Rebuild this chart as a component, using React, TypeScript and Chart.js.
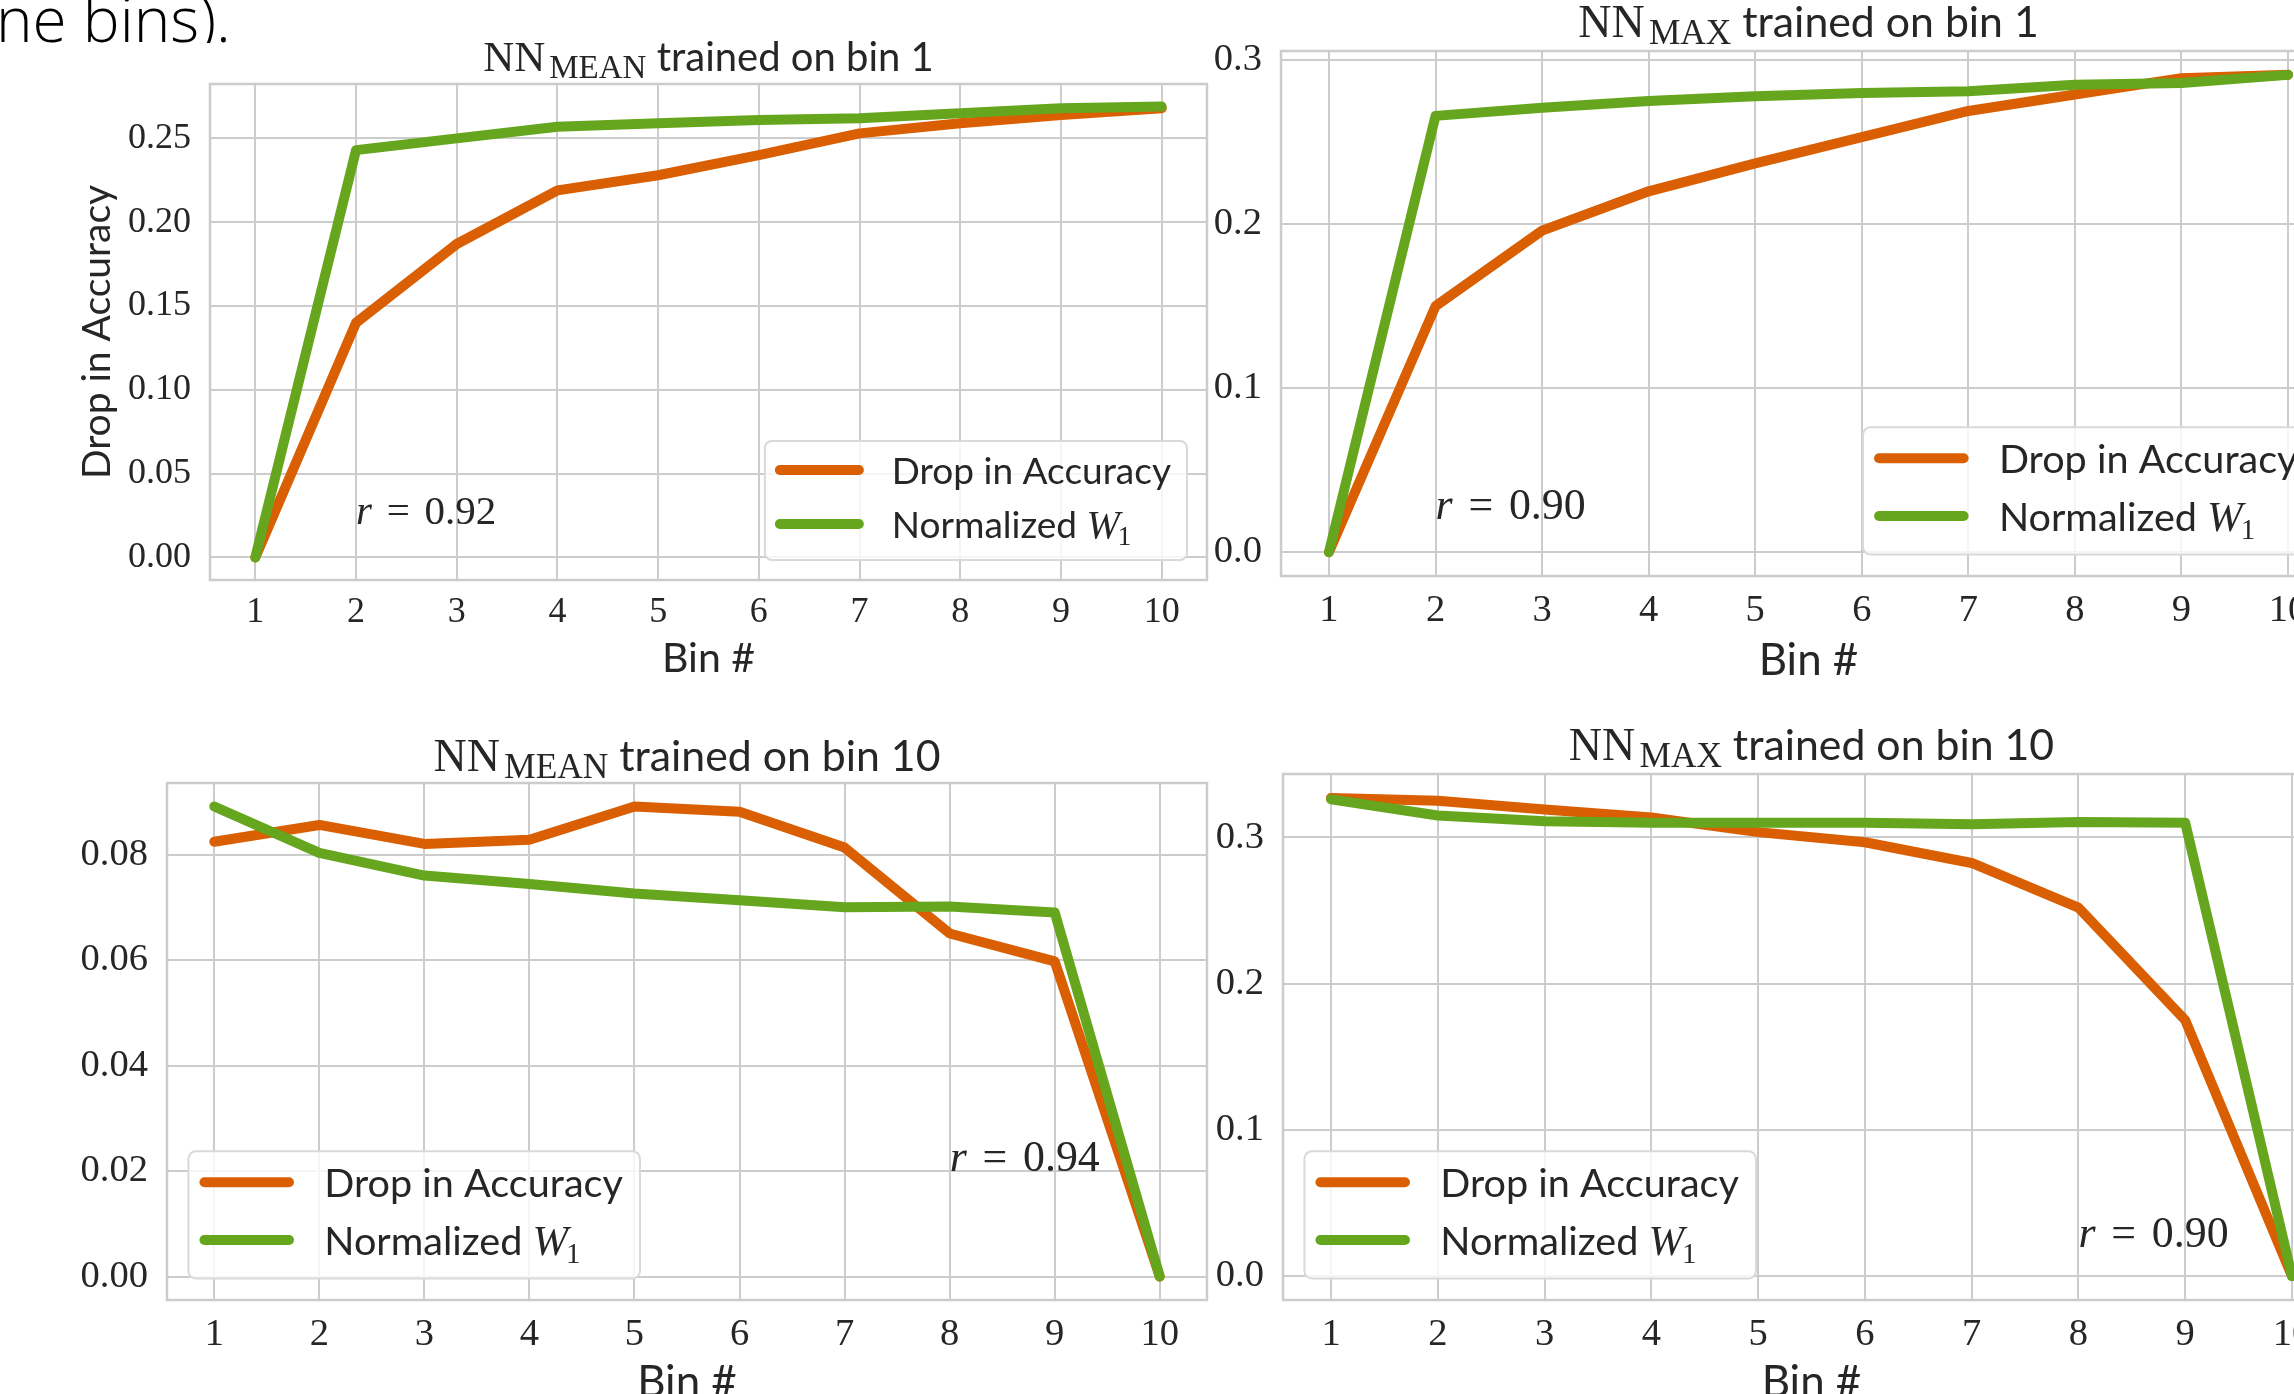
import React, { useEffect, useRef } from "react";
import { Chart, registerables } from "chart.js";
Chart.register(...registerables);

// ---------------- data ----------------
const BINS = [1, 2, 3, 4, 5, 6, 7, 8, 9, 10];
const SERIES_NAMES = ["Drop in Accuracy", "Normalized W₁"];
const COLOR_DROP = "#d95f02";
const COLOR_W1 = "#66a61e";

// NN_MEAN trained on bin 1
const MEAN_BIN1_DROP = [0, 0.14, 0.187, 0.219, 0.228, 0.24, 0.253, 0.259, 0.264, 0.268];
const MEAN_BIN1_W1 = [0, 0.243, 0.25, 0.257, 0.259, 0.261, 0.262, 0.265, 0.268, 0.269];
// NN_MAX trained on bin 1
const MAX_BIN1_DROP = [0, 0.15, 0.196, 0.22, 0.237, 0.253, 0.269, 0.279, 0.289, 0.291];
const MAX_BIN1_W1 = [0, 0.266, 0.271, 0.275, 0.278, 0.28, 0.281, 0.285, 0.286, 0.291];
// NN_MEAN trained on bin 10
const MEAN_BIN10_DROP = [0.0825, 0.0857, 0.0821, 0.0829, 0.0892, 0.0882, 0.0814, 0.0651, 0.0598, 0];
const MEAN_BIN10_W1 = [0.0892, 0.0804, 0.0761, 0.0745, 0.0727, 0.0714, 0.0701, 0.0702, 0.0691, 0];
// NN_MAX trained on bin 10
const MAX_BIN10_DROP = [0.327, 0.325, 0.319, 0.3136, 0.3036, 0.2967, 0.2825, 0.252, 0.175, 0];
const MAX_BIN10_W1 = [0.326, 0.315, 0.311, 0.31, 0.31, 0.31, 0.309, 0.3106, 0.31, 0];

const Y_TICKS_1 = [0, 0.05, 0.1, 0.15, 0.2, 0.25];
const Y_LABELS_1 = ["0.00", "0.05", "0.10", "0.15", "0.20", "0.25"];
const Y_TICKS_2 = [0, 0.1, 0.2, 0.3];
const Y_LABELS_2 = ["0.0", "0.1", "0.2", "0.3"];
const Y_TICKS_3 = [0, 0.02, 0.04, 0.06, 0.08];
const Y_LABELS_3 = ["0.00", "0.02", "0.04", "0.06", "0.08"];
const Y_TICKS_4 = [0, 0.1, 0.2, 0.3];
const Y_LABELS_4 = ["0.0", "0.1", "0.2", "0.3"];

const TITLE_SUBS = ["MEAN", "MAX", "MEAN", "MAX"];
const TITLE_RESTS = ["trained on bin 1", "trained on bin 1", "trained on bin 10", "trained on bin 10"];
const R_VALUES = ["0.92", "0.90", "0.94", "0.90"];
const R_X = [2, 2, 8, 8];
const R_Y = [0.02, 0.02, 0.02, 0.02];

// ---------------- layout ----------------
const TEXT = "#262626";
const GRID = "#cccccc";

type PanelCfg = {
  drop: number[]; w1: number[]; yTicks: number[]; yLabels: string[];
  idx: number; s: number; L: number; T: number; R: number; B: number;
  yW: number; topPad: number; rightPad: number; xH: number;
  yTitle: boolean; corner: "lr" | "ll"; titleGap: number;
  tickCenter: number; xTitleCenter: number;
};

const PANELS: PanelCfg[] = [
  { drop: MEAN_BIN1_DROP, w1: MEAN_BIN1_W1, yTicks: Y_TICKS_1, yLabels: Y_LABELS_1, idx: 0, s: 1,
    L: 210, T: 84, R: 1207, B: 580, yW: 210, topPad: 84, rightPad: 20, xH: 110,
    yTitle: true, corner: "lr", titleGap: 13, tickCenter: 613, xTitleCenter: 659 },
  { drop: MAX_BIN1_DROP, w1: MAX_BIN1_W1, yTicks: Y_TICKS_2, yLabels: Y_LABELS_2, idx: 1, s: 1.07,
    L: 1281, T: 51, R: 2336, B: 576, yW: 90, topPad: 51, rightPad: 30, xH: 110,
    yTitle: false, corner: "lr", titleGap: 14, tickCenter: 611, xTitleCenter: 661 },
  { drop: MEAN_BIN10_DROP, w1: MEAN_BIN10_W1, yTicks: Y_TICKS_3, yLabels: Y_LABELS_3, idx: 2, s: 1.07,
    L: 167, T: 783, R: 1207, B: 1300, yW: 167, topPad: 83, rightPad: 20, xH: 120,
    yTitle: false, corner: "ll", titleGap: 12, tickCenter: 1335, xTitleCenter: 1383 },
  { drop: MAX_BIN10_DROP, w1: MAX_BIN10_W1, yTicks: Y_TICKS_4, yLabels: Y_LABELS_4, idx: 3, s: 1.07,
    L: 1283, T: 774, R: 2340, B: 1300, yW: 90, topPad: 84, rightPad: 30, xH: 120,
    yTitle: false, corner: "ll", titleGap: 14, tickCenter: 1335, xTitleCenter: 1383 },
];

function padRange(a: number[], b: number[]) {
  const all = a.concat(b);
  const lo = Math.min(...all), hi = Math.max(...all);
  const m = (hi - lo) * 0.05;
  return [lo - m, hi + m];
}

const decorPlugin = {
  id: "decor",
  afterDatasetsDraw(chart: any, _args: any, opts: any) {
    const { ctx, chartArea: a } = chart;
    const s = opts.s;
    ctx.save();
    ctx.strokeStyle = GRID;
    ctx.lineWidth = 2.5;
    ctx.strokeRect(a.left, a.top, a.right - a.left, a.bottom - a.top);
    // r annotation
    const x = chart.scales.x.getPixelForValue(opts.rx);
    const y = chart.scales.y.getPixelForValue(opts.ry);
    const fs = 41 * s;
    ctx.fillStyle = TEXT;
    ctx.textBaseline = "alphabetic";
    ctx.textAlign = "left";
    ctx.font = `italic ${fs}px "Liberation Serif"`;
    ctx.fillText("r", x, y);
    let cx = x + ctx.measureText("r").width + 0.36 * fs;
    ctx.font = `${fs}px "Liberation Serif"`;
    ctx.fillText("=", cx, y);
    cx += ctx.measureText("=").width + 0.36 * fs;
    ctx.fillText(opts.rText, cx, y);
    ctx.restore();
  },
  afterDraw(chart: any, _args: any, opts: any) {
    const { ctx, chartArea: a } = chart;
    const s = opts.s;
    ctx.save();
    // ---- title ----
    const f1 = `${43 * s}px "Liberation Serif"`;
    const f2 = `${33 * s}px "Liberation Serif"`;
    const f3 = `${40 * s}px Lato`;
    ctx.font = f1; const w1 = ctx.measureText("NN").width;
    ctx.font = f2; const w2 = ctx.measureText(opts.sub).width;
    ctx.font = f3; const w3 = ctx.measureText(" " + opts.rest).width;
    const gap = 4 * s;
    const total = w1 + gap + w2 + w3;
    let tx = (a.left + a.right) / 2 - total / 2;
    const ty = a.top - opts.titleGap;
    ctx.fillStyle = TEXT;
    ctx.textAlign = "left";
    ctx.textBaseline = "alphabetic";
    ctx.font = f1; ctx.fillText("NN", tx, ty); tx += w1 + gap;
    ctx.font = f2; ctx.fillText(opts.sub, tx, ty + 7 * s); tx += w2;
    ctx.font = f3; ctx.fillText(" " + opts.rest, tx, ty);

    // ---- legend ----
    const lf = `${37 * s}px Lato`;
    const wf = `italic ${40 * s}px "Liberation Serif"`;
    const sf = `${27 * s}px "Liberation Serif"`;
    ctx.font = lf;
    const lw1 = ctx.measureText(SERIES_NAMES[0]).width;
    const nw = ctx.measureText("Normalized ").width;
    ctx.font = wf; const ww = ctx.measureText("W").width;
    ctx.font = sf; const sw = ctx.measureText("1").width;
    const lw2 = nw + ww + sw;
    const boxW = 127 * s + Math.max(lw1, lw2) + 16 * s;
    const boxH = 119 * s;
    const inset = 20 * s;
    const bx = opts.corner === "lr" ? a.right - inset - boxW : a.left + inset;
    const by = a.bottom - inset - boxH;
    ctx.beginPath();
    ctx.roundRect(bx, by, boxW, boxH, 7 * s);
    ctx.fillStyle = "rgba(255,255,255,0.8)";
    ctx.fill();
    ctx.strokeStyle = "#d9d9d9";
    ctx.lineWidth = 2;
    ctx.stroke();
    const rows = [by + 29 * s, by + 83 * s];
    const cols = [COLOR_DROP, COLOR_W1];
    ctx.lineCap = "round";
    ctx.lineWidth = 10;
    rows.forEach((ry, i) => {
      ctx.strokeStyle = cols[i];
      ctx.beginPath();
      ctx.moveTo(bx + 15 * s, ry);
      ctx.lineTo(bx + 94 * s, ry);
      ctx.stroke();
    });
    ctx.fillStyle = TEXT;
    const txl = bx + 127 * s;
    ctx.font = lf;
    ctx.fillText(SERIES_NAMES[0], txl, rows[0] + 13.5 * s);
    ctx.fillText("Normalized ", txl, rows[1] + 13.5 * s);
    ctx.font = wf;
    ctx.fillText("W", txl + nw, rows[1] + 13.5 * s);
    ctx.font = sf;
    ctx.fillText("1", txl + nw + ww - 2 * s, rows[1] + 21 * s);
    ctx.restore();
  },
};

function Panel({ cfg }: { cfg: PanelCfg }) {
  const ref = useRef<HTMLCanvasElement>(null);
  const W = cfg.yW + (cfg.R - cfg.L) + cfg.rightPad;
  const H = cfg.topPad + (cfg.B - cfg.T) + cfg.xH;
  const left = cfg.L - cfg.yW;
  const top = cfg.T - cfg.topPad;

  useEffect(() => {
    const s = cfg.s;
    const tickSize = 36 * s;
    const tickLH = tickSize * 1.2;
    const titleSize = 41 * s;
    const titleLH = titleSize * 1.2;
    const ySize = 39;
    const yLH = ySize * 1.2;
    const [ymin, ymax] = padRange(cfg.drop, cfg.w1);
    const xPad = (BINS[BINS.length - 1] - BINS[0]) * 0.05;
    const chart = new Chart(ref.current as HTMLCanvasElement, {
      type: "line",
      data: {
        labels: BINS,
        datasets: [
          {
            label: SERIES_NAMES[0],
            data: BINS.map((b, i) => ({ x: b, y: cfg.drop[i] })),
            borderColor: COLOR_DROP, borderWidth: 10, pointRadius: 0, tension: 0,
            borderCapStyle: "round", borderJoinStyle: "round", order: 1, fill: false,
          },
          {
            label: SERIES_NAMES[1],
            data: BINS.map((b, i) => ({ x: b, y: cfg.w1[i] })),
            borderColor: COLOR_W1, borderWidth: 10, pointRadius: 0, tension: 0,
            borderCapStyle: "round", borderJoinStyle: "round", order: 0, fill: false,
          },
        ],
      } as any,
      options: {
        animation: false,
        responsive: false,
        devicePixelRatio: 1,
        events: [],
        layout: { padding: { left: 0, top: cfg.topPad, right: cfg.rightPad, bottom: 0 } },
        plugins: {
          legend: { display: false },
          title: { display: false },
          tooltip: { enabled: false },
          decor: {
            s, sub: TITLE_SUBS[cfg.idx], rest: TITLE_RESTS[cfg.idx], titleGap: cfg.titleGap,
            corner: cfg.corner, rText: R_VALUES[cfg.idx], rx: R_X[cfg.idx], ry: R_Y[cfg.idx],
          },
        } as any,
        scales: {
          x: {
            type: "linear",
            min: BINS[0] - xPad,
            max: BINS[BINS.length - 1] + xPad,
            afterBuildTicks: (sc: any) => { sc.ticks = BINS.map((v) => ({ value: v })); },
            afterFit: (sc: any) => { sc.height = cfg.xH; },
            grid: { color: GRID, lineWidth: 2, drawTicks: false },
            border: { display: false },
            ticks: {
              color: TEXT, font: { family: "Liberation Serif", size: tickSize },
              padding: cfg.tickCenter - cfg.B - tickLH / 2,
              maxRotation: 0, minRotation: 0, autoSkip: false,
              callback: (v: any) => String(v),
            },
            title: {
              display: true, text: "Bin #", color: TEXT,
              font: { family: "Lato", size: titleSize },
              padding: { top: 0, bottom: top + H - titleLH / 2 - cfg.xTitleCenter },
            },
          },
          y: {
            type: "linear",
            min: ymin,
            max: ymax,
            afterBuildTicks: (sc: any) => { sc.ticks = cfg.yTicks.map((v) => ({ value: v })); },
            afterFit: (sc: any) => { sc.width = cfg.yW; },
            grid: { color: GRID, lineWidth: 2, drawTicks: false },
            border: { display: false },
            ticks: {
              color: TEXT, font: { family: "Liberation Serif", size: tickSize },
              padding: 19,
              callback: (_v: any, i: number) => cfg.yLabels[i],
            },
            title: {
              display: cfg.yTitle, text: "Drop in Accuracy", color: TEXT,
              font: { family: "Lato", size: ySize },
              padding: { top: 97 - yLH / 2, bottom: 0 },
            },
          },
        },
      } as any,
      plugins: [decorPlugin],
    });
    return () => chart.destroy();
  }, []);

  return (
    <canvas
      ref={ref}
      width={W}
      height={H}
      style={{ position: "absolute", left, top, width: W, height: H }}
    />
  );
}

export default function App() {
  return (
    <div
      style={{
        position: "fixed", left: 0, top: 0, width: 2294, height: 1394,
        overflow: "hidden", background: "#ffffff",
      }}
    >
      <div style={{ position: "absolute", left: 0, top: 0, width: 400, height: 43, overflow: "hidden" }}>
        <div
          style={{
            position: "absolute", left: -4, top: -13, whiteSpace: "nowrap",
            font: '300 62px "Open Sans"', lineHeight: "62px", color: "#000",
          }}
        >
          ne bins).
        </div>
      </div>
      {PANELS.map((p, i) => (
        <Panel key={i} cfg={p} />
      ))}
    </div>
  );
}
